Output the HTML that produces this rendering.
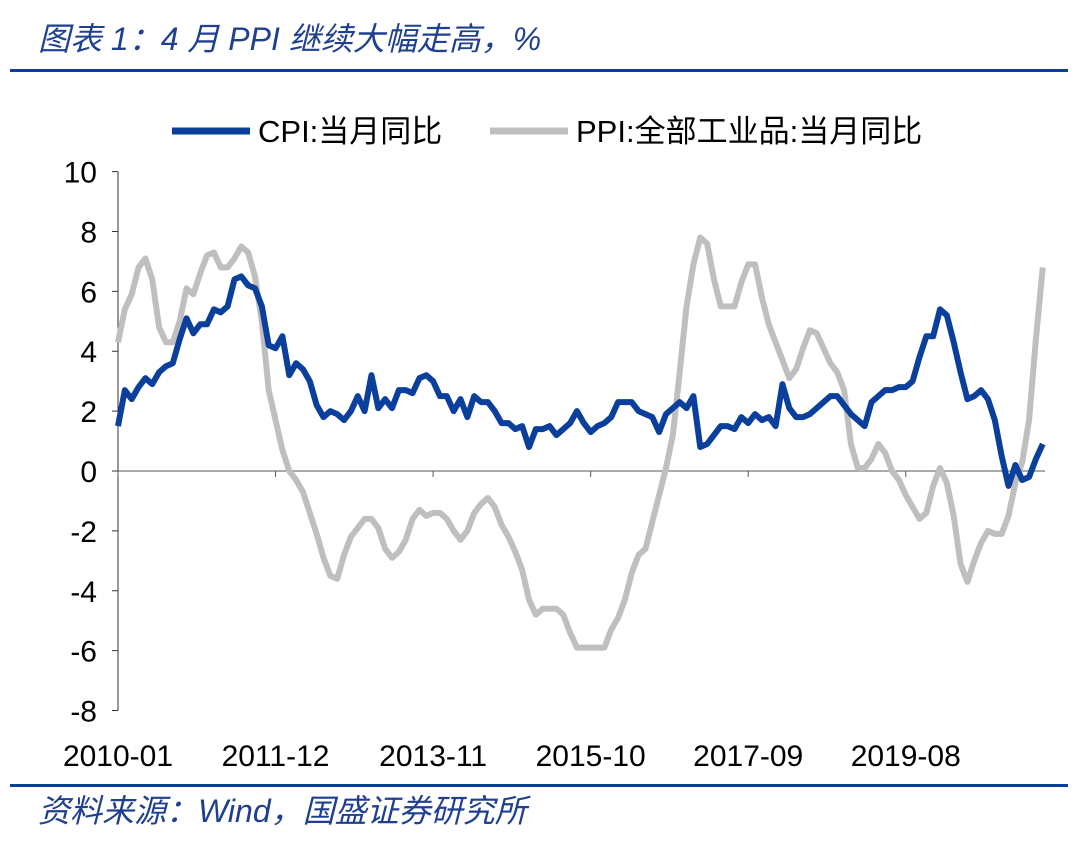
<!DOCTYPE html>
<html><head><meta charset="utf-8"><style>
body{margin:0;background:#fff;width:1080px;height:841px;overflow:hidden;font-family:"Liberation Sans","Noto Sans CJK SC",sans-serif}
.title{position:absolute;left:38px;top:14px;font-size:32px;font-style:italic;color:#1f3f8f;font-family:"Liberation Sans","Noto Sans CJK SC",sans-serif;white-space:nowrap}
.src{position:absolute;left:38px;top:786px;font-size:32px;font-style:italic;color:#1f3f8f;white-space:nowrap}
.rule{position:absolute;left:10px;width:1058px;height:3px;background:#0b3f9c}
</style></head><body>
<div class="title">图表 1：4 月 PPI 继续大幅走高，%</div>
<div class="rule" style="top:69px"></div>
<div class="rule" style="top:784px"></div>
<div class="src">资料来源：Wind，国盛证券研究所</div>
<svg id="c" width="1080" height="841" style="position:absolute;left:0;top:0"></svg>
<script>
const cpi=[1.5,2.7,2.4,2.8,3.1,2.9,3.3,3.5,3.6,4.4,5.1,4.6,
4.9,4.9,5.4,5.3,5.5,6.4,6.5,6.2,6.1,5.5,4.2,4.1,
4.5,3.2,3.6,3.4,3.0,2.2,1.8,2.0,1.9,1.7,2.0,2.5,
2.0,3.2,2.1,2.4,2.1,2.7,2.7,2.6,3.1,3.2,3.0,2.5,
2.5,2.0,2.4,1.8,2.5,2.3,2.3,2.0,1.6,1.6,1.4,1.5,
0.8,1.4,1.4,1.5,1.2,1.4,1.6,2.0,1.6,1.3,1.5,1.6,
1.8,2.3,2.3,2.3,2.0,1.9,1.8,1.3,1.9,2.1,2.3,2.1,
2.5,0.8,0.9,1.2,1.5,1.5,1.4,1.8,1.6,1.9,1.7,1.8,
1.5,2.9,2.1,1.8,1.8,1.9,2.1,2.3,2.5,2.5,2.2,1.9,
1.7,1.5,2.3,2.5,2.7,2.7,2.8,2.8,3.0,3.8,4.5,4.5,
5.4,5.2,4.3,3.3,2.4,2.5,2.7,2.4,1.7,0.5,-0.5,0.2,
-0.3,-0.2,0.4,0.9];
const ppi=[4.3,5.4,5.9,6.8,7.1,6.4,4.8,4.3,4.3,5.0,6.1,5.9,
6.6,7.2,7.3,6.8,6.8,7.1,7.5,7.3,6.5,5.0,2.7,1.7,
0.7,0.0,-0.3,-0.7,-1.4,-2.1,-2.9,-3.5,-3.6,-2.8,-2.2,-1.9,
-1.6,-1.6,-1.9,-2.6,-2.9,-2.7,-2.3,-1.6,-1.3,-1.5,-1.4,-1.4,
-1.6,-2.0,-2.3,-2.0,-1.4,-1.1,-0.9,-1.2,-1.8,-2.2,-2.7,-3.3,
-4.3,-4.8,-4.6,-4.6,-4.6,-4.8,-5.4,-5.9,-5.9,-5.9,-5.9,-5.9,
-5.3,-4.9,-4.3,-3.4,-2.8,-2.6,-1.7,-0.8,0.1,1.2,3.3,5.5,
6.9,7.8,7.6,6.4,5.5,5.5,5.5,6.3,6.9,6.9,5.8,4.9,
4.3,3.7,3.1,3.4,4.1,4.7,4.6,4.1,3.6,3.3,2.7,0.9,
0.1,0.1,0.4,0.9,0.6,0.0,-0.3,-0.8,-1.2,-1.6,-1.4,-0.5,
0.1,-0.4,-1.5,-3.1,-3.7,-3.0,-2.4,-2.0,-2.1,-2.1,-1.5,-0.4,
0.3,1.7,4.4,6.8];
const yTicks=[10,8,6,4,2,0,-2,-4,-6,-8];
const xLabels=["2010-01","2011-12","2013-11","2015-10","2017-09","2019-08"];
const xLabelIdx=[0,23,46,69,92,115];
const svg=document.getElementById('c');const NS="http://www.w3.org/2000/svg";
const x=i=>118+i*6.85, y=v=>471-v*29.94;
function mk(t,a,txt){const e=document.createElementNS(NS,t);for(const k in a)e.setAttribute(k,a[k]);if(txt!=null)e.textContent=txt;svg.appendChild(e);return e;}
let ax=mk('line',{x1:118,y1:y(10),x2:118,y2:y(-8),stroke:'#333','stroke-width':1});

yTicks.forEach(v=>{
 let t=mk('line',{x1:112,x2:118,y1:y(v),y2:y(v),stroke:'#333'});
 
 let l=mk('text',{x:97,y:y(v)+11,'text-anchor':'end','font-size':30,fill:'#000','font-family':'Liberation Sans, sans-serif'},v);
 
});
let z=mk('line',{x1:118,x2:1045,y1:y(0),y2:y(0),stroke:'#555','stroke-width':1});

for(let i=0;i<=135;i+=23){let t=mk('line',{x1:x(i),x2:x(i),y1:y(0),y2:y(0)+6,stroke:'#555'});
 }
xLabels.forEach((s,k)=>{let l=mk('text',{x:x(xLabelIdx[k]),y:766,'text-anchor':'middle','font-size':30,fill:'#000','font-family':'Liberation Sans, sans-serif'},s);
 });
function line(d,c,n){let p=mk('polyline',{points:d.map((v,i)=>x(i)+','+y(v)).join(' '),fill:'none',stroke:c,'stroke-width':6,'stroke-linejoin':'round'});
 }
line(ppi,'#bfbfbf','ppi-line');
line(cpi,'#0b3f9c','cpi-line');
let g1=mk('line',{x1:172,x2:250,y1:131,y2:131,stroke:'#0b3f9c','stroke-width':7});

let t1=mk('text',{x:258,y:142,'font-size':31,fill:'#000','font-family':'Liberation Sans, Noto Sans CJK SC, sans-serif'},'CPI:当月同比');

let g2=mk('line',{x1:490,x2:568,y1:131,y2:131,stroke:'#bfbfbf','stroke-width':7});

let t2=mk('text',{x:576,y:142,'font-size':31,fill:'#000','font-family':'Liberation Sans, Noto Sans CJK SC, sans-serif'},'PPI:全部工业品:当月同比');

</script>
</body></html>
